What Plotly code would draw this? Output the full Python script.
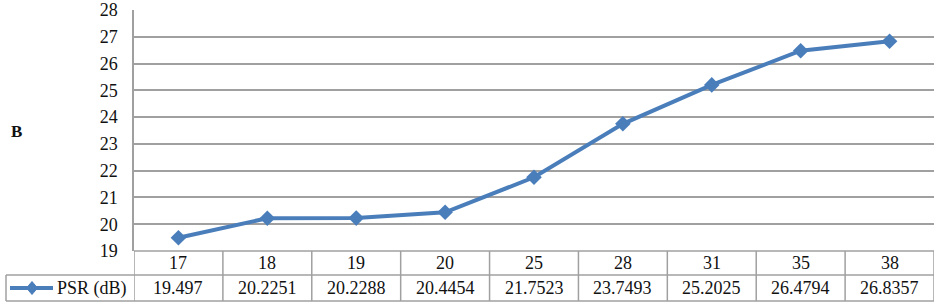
import plotly.graph_objects as go

categories = ["17", "18", "19", "20", "25", "28", "31", "35", "38"]
psr_values = [19.497, 20.2251, 20.2288, 20.4454, 21.7523, 23.7493, 25.2025, 26.4794, 26.8357]
value_labels = ["19.497", "20.2251", "20.2288", "20.4454", "21.7523", "23.7493", "25.2025", "26.4794", "26.8357"]
series_name = "PSR (dB)"
y_ticks = [19, 20, 21, 22, 23, 24, 25, 26, 27, 28]

W, H = 937, 305
ML, MR, MT, MB = 134, 3, 10, 54
PW = W - ML - MR
PH = H - MT - MB

def px_to_paper_x(px):
    return (px - ML) / PW

def px_to_paper_y(py):
    return 1 - (py - MT) / PH

COLOR = "#4a7ebb"
GRID = "#a0a0a0"
TXT = "#111111"
FONT = "Liberation Serif"

fig = go.Figure()
idx = list(range(len(categories)))
fig.add_trace(go.Scatter(
    x=idx, y=psr_values, mode="lines+markers", name=series_name,
    line=dict(color=COLOR, width=4),
    marker=dict(symbol="diamond", size=12, color=COLOR),
    showlegend=False, cliponaxis=False,
))

shapes = []
annotations = []
row0 = px_to_paper_y(251)
row1 = px_to_paper_y(275)
row2 = px_to_paper_y(301)
lw = 1.5
shapes.append(dict(type="line", xref="paper", yref="paper", x0=0, x1=1, y0=row0, y1=row0,
                   line=dict(color=GRID, width=lw)))
shapes.append(dict(type="line", xref="paper", yref="paper", x0=px_to_paper_x(6), x1=1, y0=row1, y1=row1,
                   line=dict(color=GRID, width=lw)))
shapes.append(dict(type="line", xref="paper", yref="paper", x0=px_to_paper_x(6), x1=1, y0=row2, y1=row2,
                   line=dict(color=GRID, width=lw)))
shapes.append(dict(type="line", xref="paper", yref="paper", x0=px_to_paper_x(6), x1=px_to_paper_x(6),
                   y0=row1, y1=row2, line=dict(color=GRID, width=lw)))
for i in range(len(categories) + 1):
    shapes.append(dict(type="line", xref="x", yref="paper", x0=i - 0.5, x1=i - 0.5,
                       y0=row0, y1=row2, line=dict(color=GRID, width=lw)))
for i, (c, v) in enumerate(zip(categories, value_labels)):
    annotations.append(dict(x=i, y=(row0 + row1) / 2, xref="x", yref="paper", text=c,
                            xanchor="center", yanchor="middle",
                            showarrow=False, font=dict(family=FONT, size=18, color=TXT)))
    annotations.append(dict(x=i, y=(row1 + row2) / 2, xref="x", yref="paper", text=v,
                            xanchor="center", yanchor="middle",
                            showarrow=False, font=dict(family=FONT, size=18, color=TXT)))
ly = (row1 + row2) / 2
shapes.append(dict(type="line", xref="paper", yref="paper", x0=px_to_paper_x(10), x1=px_to_paper_x(53),
                   y0=ly, y1=ly, line=dict(color=COLOR, width=4)))
cx = 32
dx, dy = 5.5, 6.5
path = "M {} {} L {} {} L {} {} L {} {} Z".format(
    px_to_paper_x(cx - dx), ly, px_to_paper_x(cx), ly + dy / PH,
    px_to_paper_x(cx + dx), ly, px_to_paper_x(cx), ly - dy / PH)
shapes.append(dict(type="path", xref="paper", yref="paper", path=path,
                   fillcolor=COLOR, line=dict(color=COLOR, width=1)))
annotations.append(dict(x=px_to_paper_x(55), y=ly, xref="paper", yref="paper", text=series_name,
                        xanchor="left", yanchor="middle",
                        showarrow=False, font=dict(family=FONT, size=18, color=TXT)))
annotations.append(dict(x=px_to_paper_x(16), y=px_to_paper_y(131), xref="paper", yref="paper", text="<b>B</b>",
                        xanchor="center", yanchor="middle",
                        showarrow=False, font=dict(family=FONT, size=17, color=TXT)))

fig.update_layout(
    width=W, height=H,
    margin=dict(l=ML, r=MR, t=MT, b=MB, autoexpand=False),
    paper_bgcolor="white", plot_bgcolor="white",
    shapes=shapes, annotations=annotations,
    xaxis=dict(type="linear", range=[-0.5, len(categories) - 0.5], showticklabels=False,
               showgrid=False, zeroline=False, ticks="", automargin=False),
    yaxis=dict(range=[19, 28], tickvals=y_ticks, showgrid=True, gridcolor=GRID, gridwidth=lw,
               zeroline=False, showline=True, linecolor=GRID, linewidth=lw, automargin=False,
               tickfont=dict(family=FONT, size=18, color=TXT), ticklabelstandoff=11,
               ticklabeloverflow="allow"),
)

fig.write_html("out.html", config={"displayModeBar": False},
               post_script="document.body.style.margin='0';document.body.style.padding='0';")
